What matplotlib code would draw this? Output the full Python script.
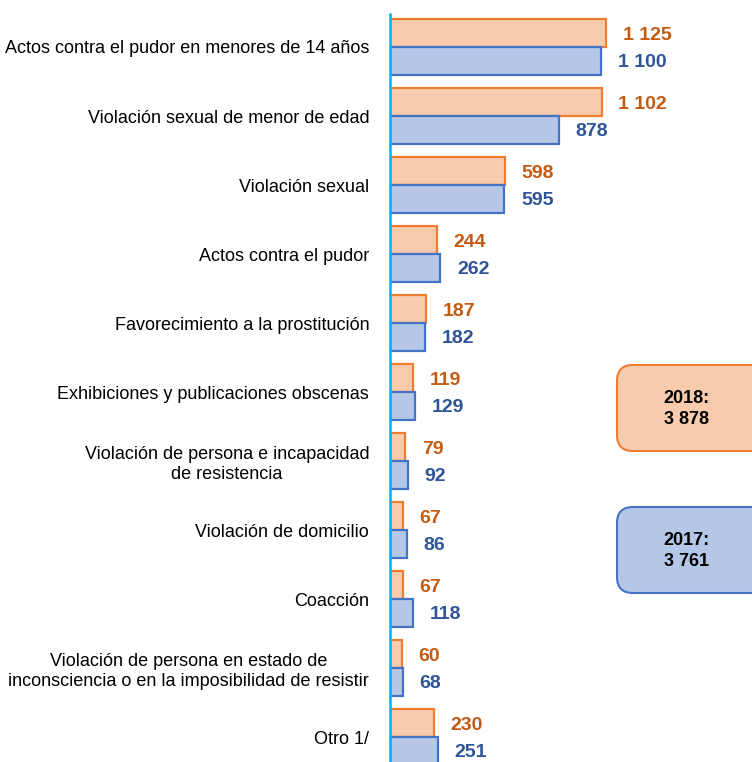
import matplotlib.pyplot as plt
from matplotlib.patches import FancyBboxPatch

# Datos del gráfico
categorias = [
    "Actos contra el pudor en menores de 14 años",
    "Violación sexual de menor de edad",
    "Violación sexual",
    "Actos contra el pudor",
    "Favorecimiento a la prostitución",
    "Exhibiciones y publicaciones obscenas",
    "Violación de persona e incapacidad\nde resistencia",
    "Violación de domicilio",
    "Coacción",
    "Violación de persona en estado de\ninconsciencia o en la imposibilidad de resistir",
    "Otro 1/",
]
valores_2018 = [1125, 1102, 598, 244, 187, 119, 79, 67, 67, 60, 230]
valores_2017 = [1100, 878, 595, 262, 182, 129, 92, 86, 118, 68, 251]
anios = ["2018", "2017"]
totales = ["3 878", "3 761"]

naranja_relleno = "#F8CBAD"
naranja_borde = "#ED7D31"
naranja_texto = "#C55A11"
azul_relleno = "#B4C7E7"
azul_borde = "#4472C4"
azul_texto = "#2F5597"

plt.rcParams['font.family'] = ['Liberation Sans', 'DejaVu Sans']


def formato(v):
    return f"{v:,}".replace(",", " ")


def main():
    fig = plt.figure(figsize=(7.52, 7.62), dpi=100)
    ax = fig.add_axes([390 / 752, 0, 1 - 390 / 752, 1 - 14 / 762])

    n = len(categorias)
    pos = list(range(n))
    alto = 0.405
    pos_2018 = [p - alto / 2 for p in pos]
    pos_2017 = [p + alto / 2 for p in pos]

    ax.barh(pos_2018, valores_2018, height=alto, color=naranja_relleno,
            edgecolor=naranja_borde, linewidth=1.6)
    ax.barh(pos_2017, valores_2017, height=alto, color=azul_relleno,
            edgecolor=azul_borde, linewidth=1.6)

    for y, v in zip(pos_2018, valores_2018):
        ax.annotate(formato(v), (v, y), xytext=(12, -1.5), textcoords="offset points",
                    va="center", ha="left", fontsize=14, fontweight="bold",
                    color=naranja_texto)
    for y, v in zip(pos_2017, valores_2017):
        ax.annotate(formato(v), (v, y), xytext=(12, -1), textcoords="offset points",
                    va="center", ha="left", fontsize=14, fontweight="bold",
                    color=azul_texto)

    ax.set_xlim(0, 1885)
    ax.set_ylim(10.36, -0.478)
    ax.set_yticks(pos)
    ax.set_yticklabels(categorias, fontsize=13, multialignment="center")
    ax.tick_params(axis="y", length=0, pad=15)
    ax.set_xticks([])
    for lado in ["top", "right", "bottom"]:
        ax.spines[lado].set_visible(False)
    ax.spines["left"].set_color("#00B0F0")
    ax.spines["left"].set_linewidth(1.8)

    # Cuadros con los totales
    capa = fig.add_axes([0, 0, 1, 1], zorder=5)
    capa.set_xlim(0, 752)
    capa.set_ylim(762, 0)
    capa.axis("off")
    cuadros = [(365, naranja_relleno, naranja_borde), (507, azul_relleno, azul_borde)]
    for (y0, relleno, borde), anio, total in zip(cuadros, anios, totales):
        caja = FancyBboxPatch((617, y0), 150, 86, boxstyle="round,pad=0,rounding_size=16",
                              facecolor=relleno, edgecolor=borde, linewidth=1.5,
                              clip_on=False)
        capa.add_patch(caja)
        capa.text(687, y0 + 44, f"{anio}:\n{total}", ha="center", va="center",
                  fontsize=13, fontweight="bold", color="black", linespacing=1.3)

    fig.savefig("out.png", dpi=100)


if __name__ == "__main__":
    main()
